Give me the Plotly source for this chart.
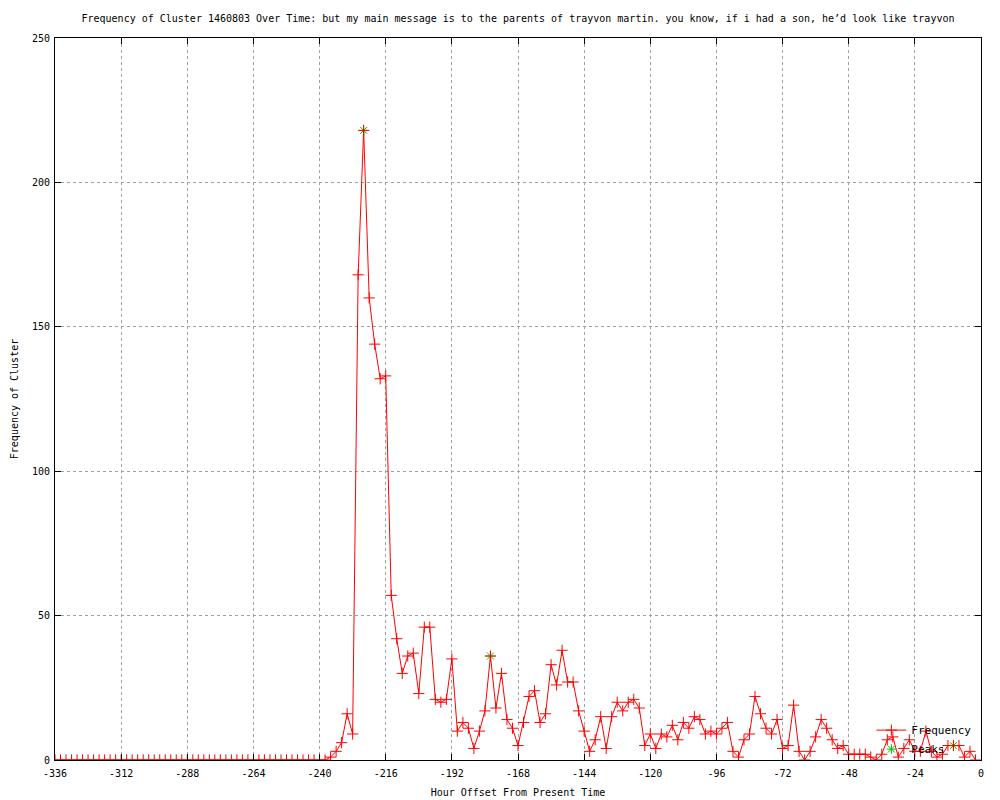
import plotly.graph_objects as go

# Hours (step 2) from -336 to -2 and cluster frequency
hours = list(range(-336, 0, 2))
zeros_before = [0] * 49  # -336 .. -240
freq_tail = [
    0, 1, 3, 6, 16, 9, 168, 218, 160, 144, 132, 133, 57, 42, 30, 36, 37, 23, 46, 46,
    21, 20, 21, 35, 10, 13, 11, 4, 10, 17, 36, 18, 30, 14, 11, 5, 13, 22, 24, 13,
    16, 33, 26, 38, 27, 27, 17, 10, 3, 7, 15, 4, 15, 20, 17, 20, 21, 18, 5, 9,
    4, 9, 8, 12, 7, 13, 11, 15, 14, 9, 10, 9, 11, 13, 3, 1, 7, 9, 22, 16,
    11, 9, 14, 4, 5, 19, 3, 0, 3, 8, 14, 11, 7, 4, 5, 2, 2, 2, 2, 1,
    0, 2, 7, 8, 1, 4, 7, 3, 3, 10, 3, 1, 2, 5, 5, 5, 1, 3, 0,
]
frequency = zeros_before + freq_tail

peak_hours = [-224, -178, -10]
peak_values = [218, 36, 5]

x_ticks = list(range(-336, 1, 24))
y_ticks = list(range(0, 251, 50))

title_text = ("Frequency of Cluster 1460803 Over Time: but my main message is to the parents "
              "of trayvon martin. you know, if i had a son, he’d look like trayvon")

FONT = "DejaVu Sans Mono"

fig = go.Figure()
fig.add_trace(go.Scatter(
    x=peak_hours, y=peak_values, mode="markers", name="Peaks",
    marker=dict(symbol="asterisk-open", size=8, color="#00c000",
                line=dict(color="#00c000", width=1)),
    legendrank=2, cliponaxis=False,
))
fig.add_trace(go.Scatter(
    x=hours, y=frequency, mode="lines+markers", name="Frequency",
    line=dict(color="#ff0000", width=1),
    marker=dict(symbol="cross-thin-open", size=8, color="#ff0000",
                line=dict(color="#ff0000", width=1)),
    legendrank=1,
))

axis_common = dict(
    showline=True, linecolor="black", linewidth=1, mirror="ticks",
    ticks="inside", ticklen=6, tickcolor="black", automargin=False,
    showgrid=True, gridcolor="#a0a0a0", griddash="dot", gridwidth=1,
    zeroline=False, tickfont=dict(family=FONT, size=10, color="black"),
)

# the page body adds an 8px offset, margins compensate for it
fig.update_layout(
    width=1000, height=800,
    paper_bgcolor="white", plot_bgcolor="white",
    margin=dict(l=47, r=27, t=30, b=48, autoexpand=False),
    title=dict(text=title_text, x=0.51, xanchor="center", y=0.9875, yanchor="middle",
               font=dict(family=FONT, size=10, color="black")),
    xaxis=dict(range=[-336, 0], tickvals=x_ticks, ticktext=[str(v) for v in x_ticks],
               ticklabelstandoff=4,
               title=dict(text="Hour Offset From Present Time", standoff=10,
                          font=dict(family=FONT, size=10, color="black")),
               **axis_common),
    yaxis=dict(range=[0, 250], tickvals=y_ticks, ticktext=[str(v) for v in y_ticks],
               ticklabelstandoff=2,
               title=dict(text="Frequency of Cluster", standoff=11,
                          font=dict(family=FONT, size=10, color="black")),
               **axis_common),
    legend=dict(x=0.995, y=-0.005, xanchor="right", yanchor="bottom",
                bgcolor="rgba(0,0,0,0)", font=dict(family=FONT, size=11, color="black"),
                tracegroupgap=0, itemwidth=30),
    showlegend=True,
)

fig.write_html("out.html")
